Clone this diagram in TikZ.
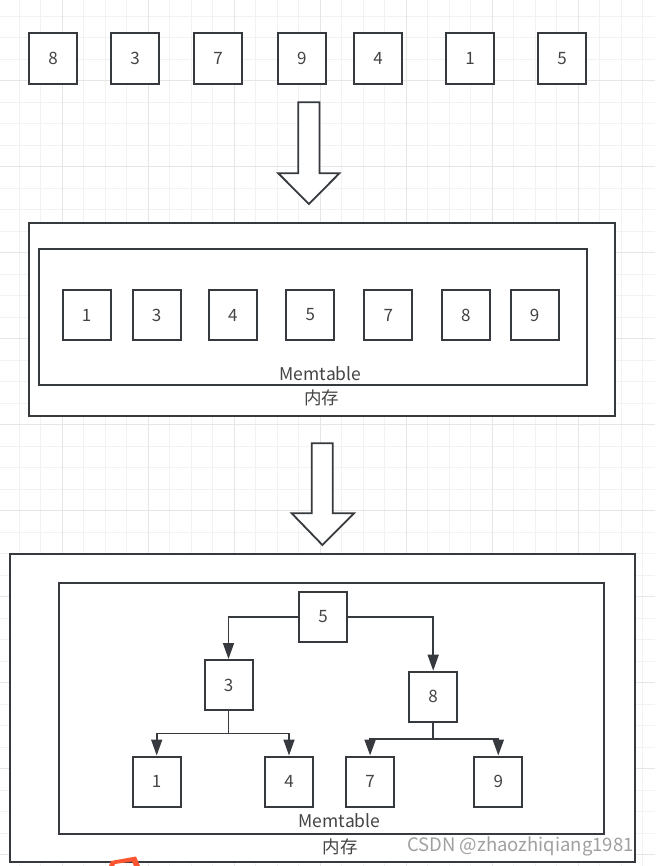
\documentclass[tikz,border=0pt]{standalone}
\usepackage{fontspec}
\setmainfont{Noto Sans CJK SC}
\usetikzlibrary{arrows.meta}
\definecolor{strokec}{HTML}{36393D}
\definecolor{txtc}{HTML}{444444}
\definecolor{gridminor}{HTML}{F2F2F2}
\definecolor{gridmajor}{HTML}{E6E6E6}
\definecolor{csdnc}{HTML}{FC5531}
\definecolor{wmc}{HTML}{A0A0A0}
\begin{document}
\begin{tikzpicture}[x=1pt,y=-1pt,
  numbox/.style={draw=strokec, fill=white, line width=2pt, minimum width=48pt, minimum height=50pt, inner sep=0pt, text=txtc, font=\fontsize{17}{20}\selectfont},
  framebox/.style={draw=strokec, fill=white, line width=2pt, inner sep=0pt},
  lbl/.style={text=txtc, font=\fontsize{17.5}{20}\selectfont, inner sep=0pt},
  link/.style={draw=strokec, line width=1.6pt, -{Triangle[length=16pt,width=11pt]}},
  bigarrow/.style={draw=strokec, fill=white, line width=1.8pt, line join=miter},
  gmin/.style={draw=gridminor, line width=1.2pt},
  gmaj/.style={draw=gridmajor, line width=1.4pt}
]
\useasboundingbox (0,0) rectangle (655,866);
\fill[white] (0,0) rectangle (655,866);
% grid
\foreach \i in {0,...,31} { \draw[gmin] ({-2.2+21.5*\i},0) -- ({-2.2+21.5*\i},866); }
\foreach \j in {0,...,41} { \draw[gmin] (0,{-5.3+21.5*\j}) -- (655,{-5.3+21.5*\j}); }
\foreach \i in {0,...,7} { \draw[gmaj] ({62.3+86*\i},0) -- ({62.3+86*\i},866); }
\foreach \j in {0,...,9} { \draw[gmaj] (0,{80.7+86*\j}) -- (655,{80.7+86*\j}); }

% top row
\node[numbox, minimum height=51pt] (a8) at (53,58.5) {8};
\node[numbox, minimum height=51pt] (a3) at (135,58.5) {3};
\node[numbox, minimum height=51pt] (a7) at (218.2,58.5) {7};
\node[numbox, minimum height=51pt] (a9) at (301.8,58.5) {9};
\node[numbox, minimum height=51pt] (a4) at (378.2,58.5) {4};
\node[numbox, minimum height=51pt] (a1) at (470.1,58.5) {1};
\node[numbox, minimum height=51pt] (a5) at (562,58.5) {5};

% arrow 1
\draw[bigarrow] (298.2,102.3) -- (319.5,102.3) -- (319.5,173.3) -- (339.4,173.3) -- (308.9,204) -- (278.3,173.3) -- (298.2,173.3) -- cycle;

% memtable 1
\node[framebox, minimum width=586.1pt, minimum height=193.3pt] (mem1out) at (322.25,319.35) {};
\node[framebox, minimum width=547.6pt, minimum height=136.3pt] (mem1in) at (313.1,316.85) {};
\node[numbox] (b1) at (86.7,315) {1};
\node[numbox] (b3) at (156.5,315) {3};
\node[numbox] (b4) at (232.9,315) {4};
\node[numbox] (b5) at (310.4,315) {5};
\node[numbox] (b7) at (388.3,315) {7};
\node[numbox] (b8) at (465.8,315) {8};
\node[numbox] (b9) at (534.5,315) {9};
\node[lbl, anchor=base] (mem1lbl) at (320.5,380.5) {Memtable};
\node[lbl] (ram1lbl) at (321.5,397.5) {内存};

% arrow 2
\draw[bigarrow] (311.7,443.3) -- (332.7,443.3) -- (332.7,513.3) -- (354,513.3) -- (322.4,545) -- (291.7,513.3) -- (311.7,513.3) -- cycle;

% memtable 2 (tree)
\node[framebox, minimum width=625pt, minimum height=307.7pt] (mem2out) at (322.5,708.15) {};
\node[framebox, minimum width=545.5pt, minimum height=251.3pt] (mem2in) at (331.25,708.35) {};
\node[numbox] (t5) at (323,616.7) {5};
\node[numbox] (t3) at (228.5,685) {3};
\node[numbox] (t8) at (433.2,696.7) {8};
\node[numbox] (t1) at (156.7,781.5) {1};
\node[numbox] (t4) at (289,781.5) {4};
\node[numbox] (t7) at (370.1,781.5) {7};
\node[numbox] (t9) at (498.3,781.5) {9};
\coordinate (j3) at (228.5,733.3);
\coordinate (j8) at (433.2,739.3);

\draw[link] (t5.west) -| (t3.north);
\draw[link] (t5.east) -| (t8.north);
\draw[strokec, line width=1.6pt] (t3.south) -- (j3);
\draw[link] (j3) -| (t1.north);
\draw[link] (j3) -| (t4.north);
\draw[strokec, line width=2.2pt] (t8.south) -- (j8);
\draw[link, line width=2.2pt] (j8) -| (t7.north);
\draw[link, line width=2.2pt] (j8) -| (t9.north);

\node[lbl, anchor=base] (mem2lbl) at (339.5,827.5) {Memtable};
\node[lbl] (ram2lbl) at (340,846.5) {内存};
\node[anchor=west, inner sep=0pt, text=wmc, font=\fontsize{18.5}{20}\selectfont] (wm) at (407,846) {CSDN @zhaozhiqiang1981};

% orange fragment at bottom
\fill[csdnc] (109,866) -- (111,861) -- (136,856.5) -- (140,866) -- (134,866) -- (132,861.5) -- (115,864) -- (114,866) -- cycle;
\end{tikzpicture}
\end{document}
